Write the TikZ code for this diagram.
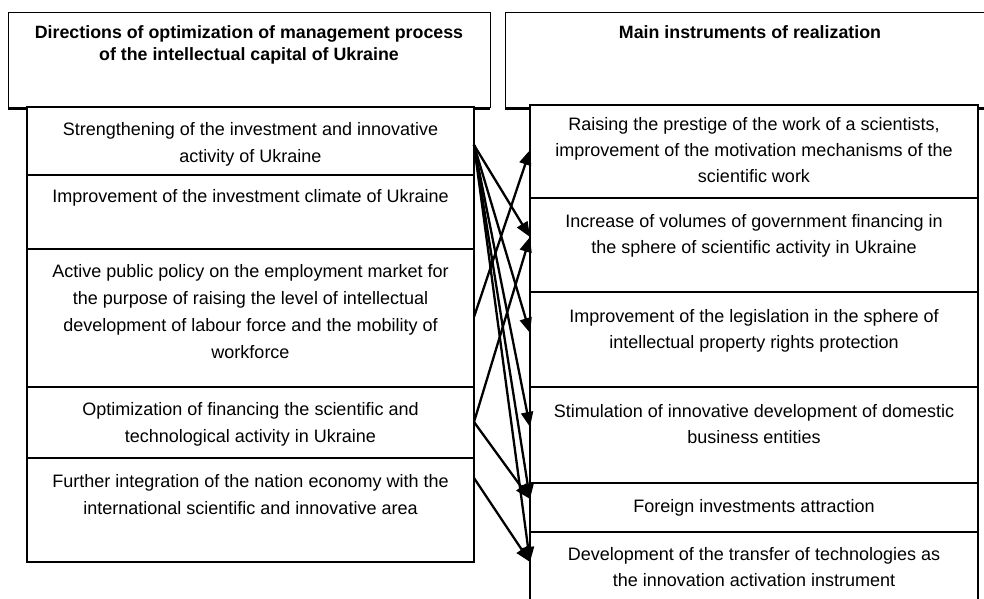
\documentclass[tikz,border=0pt]{standalone}
\usepackage{fontspec}
\setmainfont{Liberation Sans}
\usetikzlibrary{arrows.meta,calc}
\begin{document}
\begin{tikzpicture}[x=1pt,y=-1pt,
  hdr/.style={draw=black, line width=1pt, fill=white, rectangle, inner sep=0pt, outer sep=0pt, anchor=north west},
  cell/.style={draw=black, line width=1.1pt, fill=white, rectangle, inner sep=0pt, outer sep=0pt, anchor=north west},
  ltxt/.style={anchor=north, align=center, inner sep=0pt, font=\fontsize{18}{27}\selectfont},
  rtxt/.style={anchor=north, align=center, inner sep=0pt, font=\fontsize{18}{26}\selectfont},
  htxt/.style={anchor=north, align=center, inner sep=0pt, font=\fontsize{17.8}{22}\selectfont\bfseries},
  arr/.style={line width=2.3pt, -{Triangle[length=15pt,width=12pt]}},
  hshadow/.style={line width=3pt}
]
\useasboundingbox (0,0) rectangle (984,598);
\clip (0,0) rectangle (984,598);

% headers
\node[hdr, minimum width=482pt, minimum height=95pt] (HL) at (8,12) {};
\node[hdr, minimum width=490pt, minimum height=95pt] (HR) at (505,12) {};
\draw[hshadow] ($(HL.south west)+(0,1)$) -- ($(HL.south east)+(0,1)$);
\draw[hshadow] ($(HR.south west)+(0,1)$) -- ($(HR.south east)+(0,1)$);
\node[htxt] (tHL) at ($(HL.north)+(0,13)$) {\rule{0pt}{13pt}Directions of optimization of management process\\of the intellectual capital of Ukraine};
\node[htxt] (tHR) at ($(HR.north)+(0,13)$) {\rule{0pt}{13pt}Main instruments of realization};

% left column
\node[cell, minimum width=447pt, minimum height=68pt] (L1) at (27,107) {};
\node[cell, minimum width=447pt, minimum height=74pt] (L2) at (27,175) {};
\node[cell, minimum width=447pt, minimum height=138pt] (L3) at (27,249) {};
\node[cell, minimum width=447pt, minimum height=71pt] (L4) at (27,387) {};
\node[cell, minimum width=447pt, minimum height=104pt] (L5) at (27,458) {};

\node[ltxt] (tL1) at ($(L1.north)+(0,14)$) {\rule{0pt}{14pt}Strengthening of the investment and innovative\\activity of Ukraine};
\node[ltxt] (tL2) at ($(L2.north)+(0,13)$) {\rule{0pt}{14pt}Improvement of the investment climate of Ukraine};
\node[ltxt] (tL3) at ($(L3.north)+(0,14)$) {\rule{0pt}{14pt}Active public policy on the employment market for\\the purpose of raising the level of intellectual\\development of labour force and the mobility of\\workforce};
\node[ltxt] (tL4) at ($(L4.north)+(0,14)$) {\rule{0pt}{14pt}Optimization of financing the scientific and\\technological activity in Ukraine};
\node[ltxt] (tL5) at ($(L5.north)+(0,15)$) {\rule{0pt}{14pt}Further integration of the nation economy with the\\international scientific and innovative area};

% right column
\node[cell, minimum width=448pt, minimum height=93pt] (R1) at (530,105) {};
\node[cell, minimum width=448pt, minimum height=94pt] (R2) at (530,198) {};
\node[cell, minimum width=448pt, minimum height=95pt] (R3) at (530,292) {};
\node[cell, minimum width=448pt, minimum height=96pt] (R4) at (530,387) {};
\node[cell, minimum width=448pt, minimum height=49pt] (R5) at (530,483) {};
\node[cell, minimum width=448pt, minimum height=80pt] (R6) at (530,532) {};

\node[rtxt] (tR1) at ($(R1.north)+(0,11)$) {\rule{0pt}{14pt}Raising the prestige of the work of a scientists,\\improvement of the motivation mechanisms of the\\scientific work};
\node[rtxt] (tR2) at ($(R2.north)+(0,15)$) {\rule{0pt}{14pt}Increase of volumes of government financing in\\the sphere of scientific activity in Ukraine};
\node[rtxt] (tR3) at ($(R3.north)+(0,16)$) {\rule{0pt}{14pt}Improvement of the legislation in the sphere of\\intellectual property rights protection};
\node[rtxt] (tR4) at ($(R4.north)+(0,16)$) {\rule{0pt}{14pt}Stimulation of innovative development of domestic\\business entities};
\node[rtxt] (tR5) at ($(R5.north)+(0,15)$) {\rule{0pt}{14pt}Foreign investments attraction};
\node[rtxt] (tR6) at ($(R6.north)+(0,14)$) {\rule{0pt}{14pt}Development of the transfer of technologies as\\the innovation activation instrument};

% anchor points
\coordinate (s1) at ($(L1.north east)+(0,38)$);
\coordinate (s3) at ($(L3.north east)+(0,68)$);
\coordinate (s4) at ($(L4.north east)+(0,35)$);
\coordinate (s5) at ($(L5.north east)+(0,20)$);
\coordinate (e1) at ($(R1.north west)+(0,45)$);
\coordinate (e2) at ($(R2.north west)+(0,39)$);
\coordinate (e3) at ($(R3.north west)+(0,41)$);
\coordinate (e4) at ($(R4.north west)+(0,40)$);
\coordinate (e5) at ($(R5.north west)+(0,16)$);
\coordinate (e6) at ($(R6.north west)+(0,30)$);

\draw[arr] (s1) -- (e2);
\draw[arr] (s1) -- (e3);
\draw[arr] (s1) -- (e4);
\draw[arr] (s1) -- (e5);
\draw[arr] (s1) -- (e6);
\draw[arr] (s3) -- (e1);
\draw[arr] (s4) -- (e2);
\draw[arr] (s4) -- (e5);
\draw[arr] (s5) -- (e6);
\end{tikzpicture}
\end{document}
